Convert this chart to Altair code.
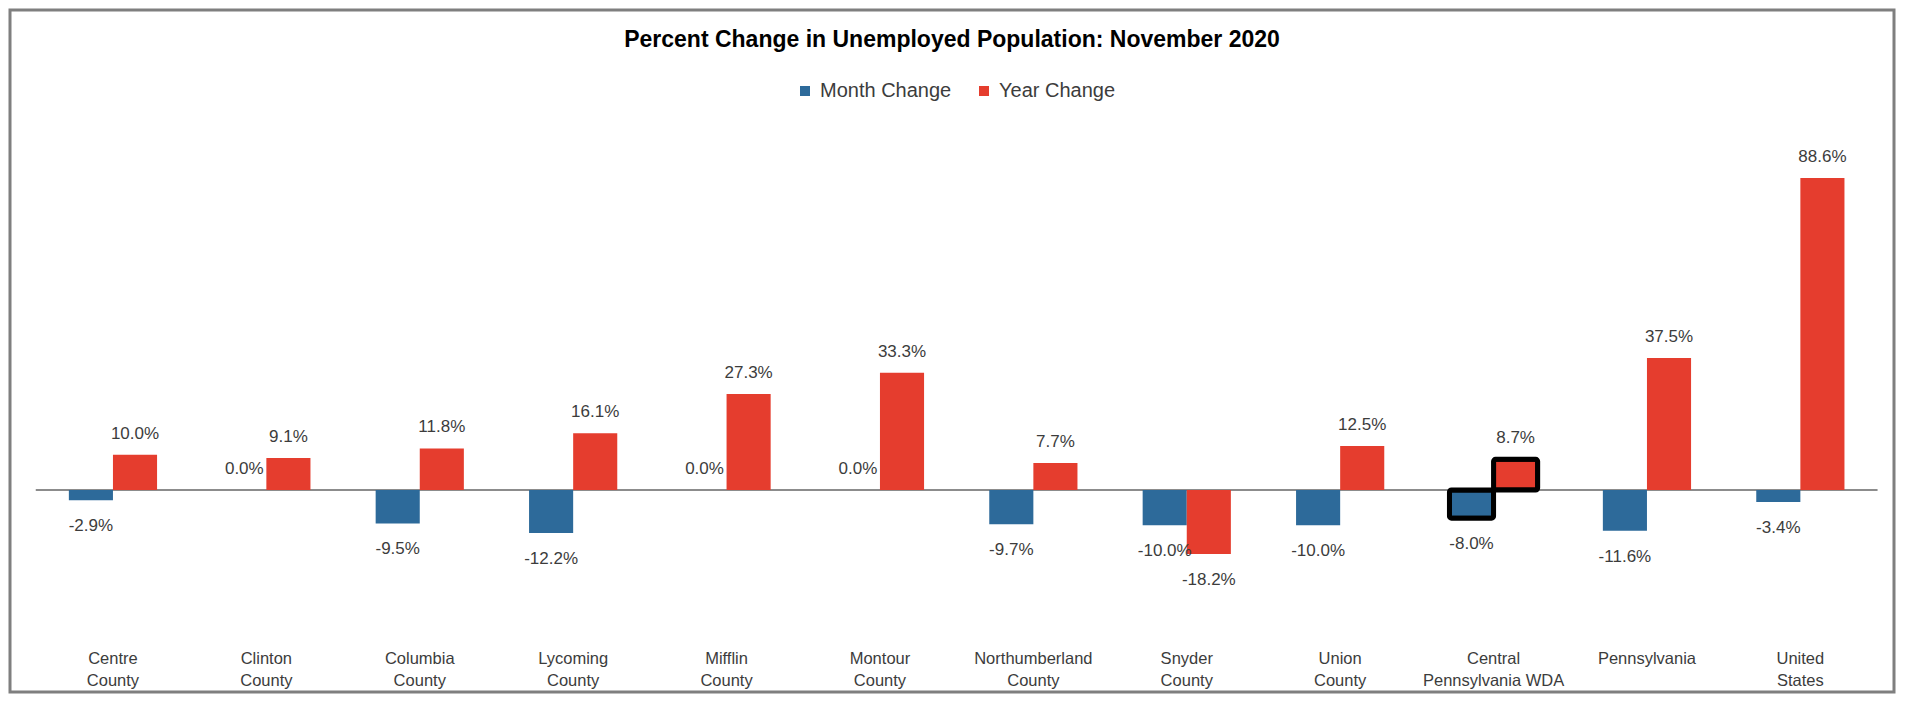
import altair as alt
import pandas as pd

categories = [
    "Centre County", "Clinton County", "Columbia County", "Lycoming County",
    "Mifflin County", "Montour County", "Northumberland County", "Snyder County",
    "Union County", "Central Pennsylvania WDA", "Pennsylvania", "United States",
]
month_change = [-2.9, 0.0, -9.5, -12.2, 0.0, 0.0, -9.7, -10.0, -10.0, -8.0, -11.6, -3.4]
year_change = [10.0, 9.1, 11.8, 16.1, 27.3, 33.3, 7.7, -18.2, 12.5, 8.7, 37.5, 88.6]
series = ["Month Change", "Year Change"]
highlight = "Central Pennsylvania WDA"

BLUE = "#2d6a9a"
RED = "#e53d2e"
TXT = "#3c3c3c"
FONT = "Liberation Sans"

rows = []
for c, m, yv in zip(categories, month_change, year_change):
    rows.append({"category": c, "series": series[0], "value": m})
    rows.append({"category": c, "series": series[1], "value": yv})
df = pd.DataFrame(rows)
zero_df = pd.DataFrame({"category": categories, "value": [0.0] * len(categories)})

W, H = 1884, 682
STEP = 153.4

x_scale = alt.Scale(domain=categories, paddingInner=0.425, paddingOuter=0.3533, align=0.543)
label_expr = (
    "indexof(datum.label, ' ') > 0 ? "
    "[slice(datum.label, 0, indexof(datum.label, ' ')), slice(datum.label, indexof(datum.label, ' ') + 1)] "
    ": datum.label"
)
x = alt.X(
    "category:N",
    scale=x_scale,
    title=None,
    axis=alt.Axis(
        orient="bottom", offset=-42, domain=False, ticks=False, labelPadding=0,
        labelFont=FONT, labelFontSize=16.5, labelColor=TXT, labelAngle=0,
        labelLineHeight=22, labelBaseline="top", labelExpr=label_expr,
        labelOverlap=False, labelLimit=400,
    ),
)
xoff = alt.XOffset("series:N", scale=alt.Scale(domain=series, paddingInner=0, paddingOuter=0))
y = alt.Y("value:Q", scale=alt.Scale(domain=[-57.39, 136.36], nice=False, zero=False), axis=None)
color = alt.Color(
    "series:N",
    scale=alt.Scale(domain=series, range=[BLUE, RED]),
    legend=alt.Legend(
        title=None, orient="none", legendX=785, legendY=71, direction="horizontal",
        symbolType="square", symbolSize=100, symbolStrokeWidth=0,
        labelFont=FONT, labelFontSize=20, labelColor=TXT, labelOffset=5,
        columnPadding=22,
    ),
)

zero = alt.Chart(zero_df).mark_tick(
    color="#8c8c8c", thickness=2, size=STEP + 1, opacity=1
).encode(x=x, y=y)

base = alt.Chart(df)

bars = base.mark_bar().encode(x=x, xOffset=xoff, y=y, color=color)

hl = base.transform_filter(alt.datum.category == highlight).mark_bar(
    stroke="black", strokeWidth=5, cornerRadius=2
).encode(x=x, xOffset=xoff, y=y, color=alt.Color("series:N", legend=None))

lbl = base.transform_calculate(
    lbl="(datum.value < 0 ? '-' : '') + format(abs(datum.value), '.1f') + '%'"
)
labels_pos = lbl.transform_filter(alt.datum.value >= 0).mark_text(
    dy=-21, baseline="middle", font=FONT, fontSize=17, color=TXT
).encode(x=x, xOffset=xoff, y=y, text="lbl:N")
labels_neg = lbl.transform_filter(alt.datum.value < 0).mark_text(
    dy=26, baseline="middle", font=FONT, fontSize=17, color=TXT
).encode(x=x, xOffset=xoff, y=y, text="lbl:N")

chart = alt.layer(zero, bars, hl, labels_pos, labels_neg).properties(
    width=W,
    height=H,
    padding={"left": 2, "top": 2, "right": 2, "bottom": 2},
    autosize=alt.AutoSizeParams(type="none"),
    background="white",
    title=alt.TitleParams(
        "Percent Change in Unemployed Population: November 2020",
        font=FONT, fontSize=23, fontWeight="bold", color="black",
        anchor="middle", offset=-41.5,
    ),
).configure_view(stroke="#7f7f7f", strokeWidth=3)

chart.save("out.html", embed_options={"renderer": "svg", "actions": False})
